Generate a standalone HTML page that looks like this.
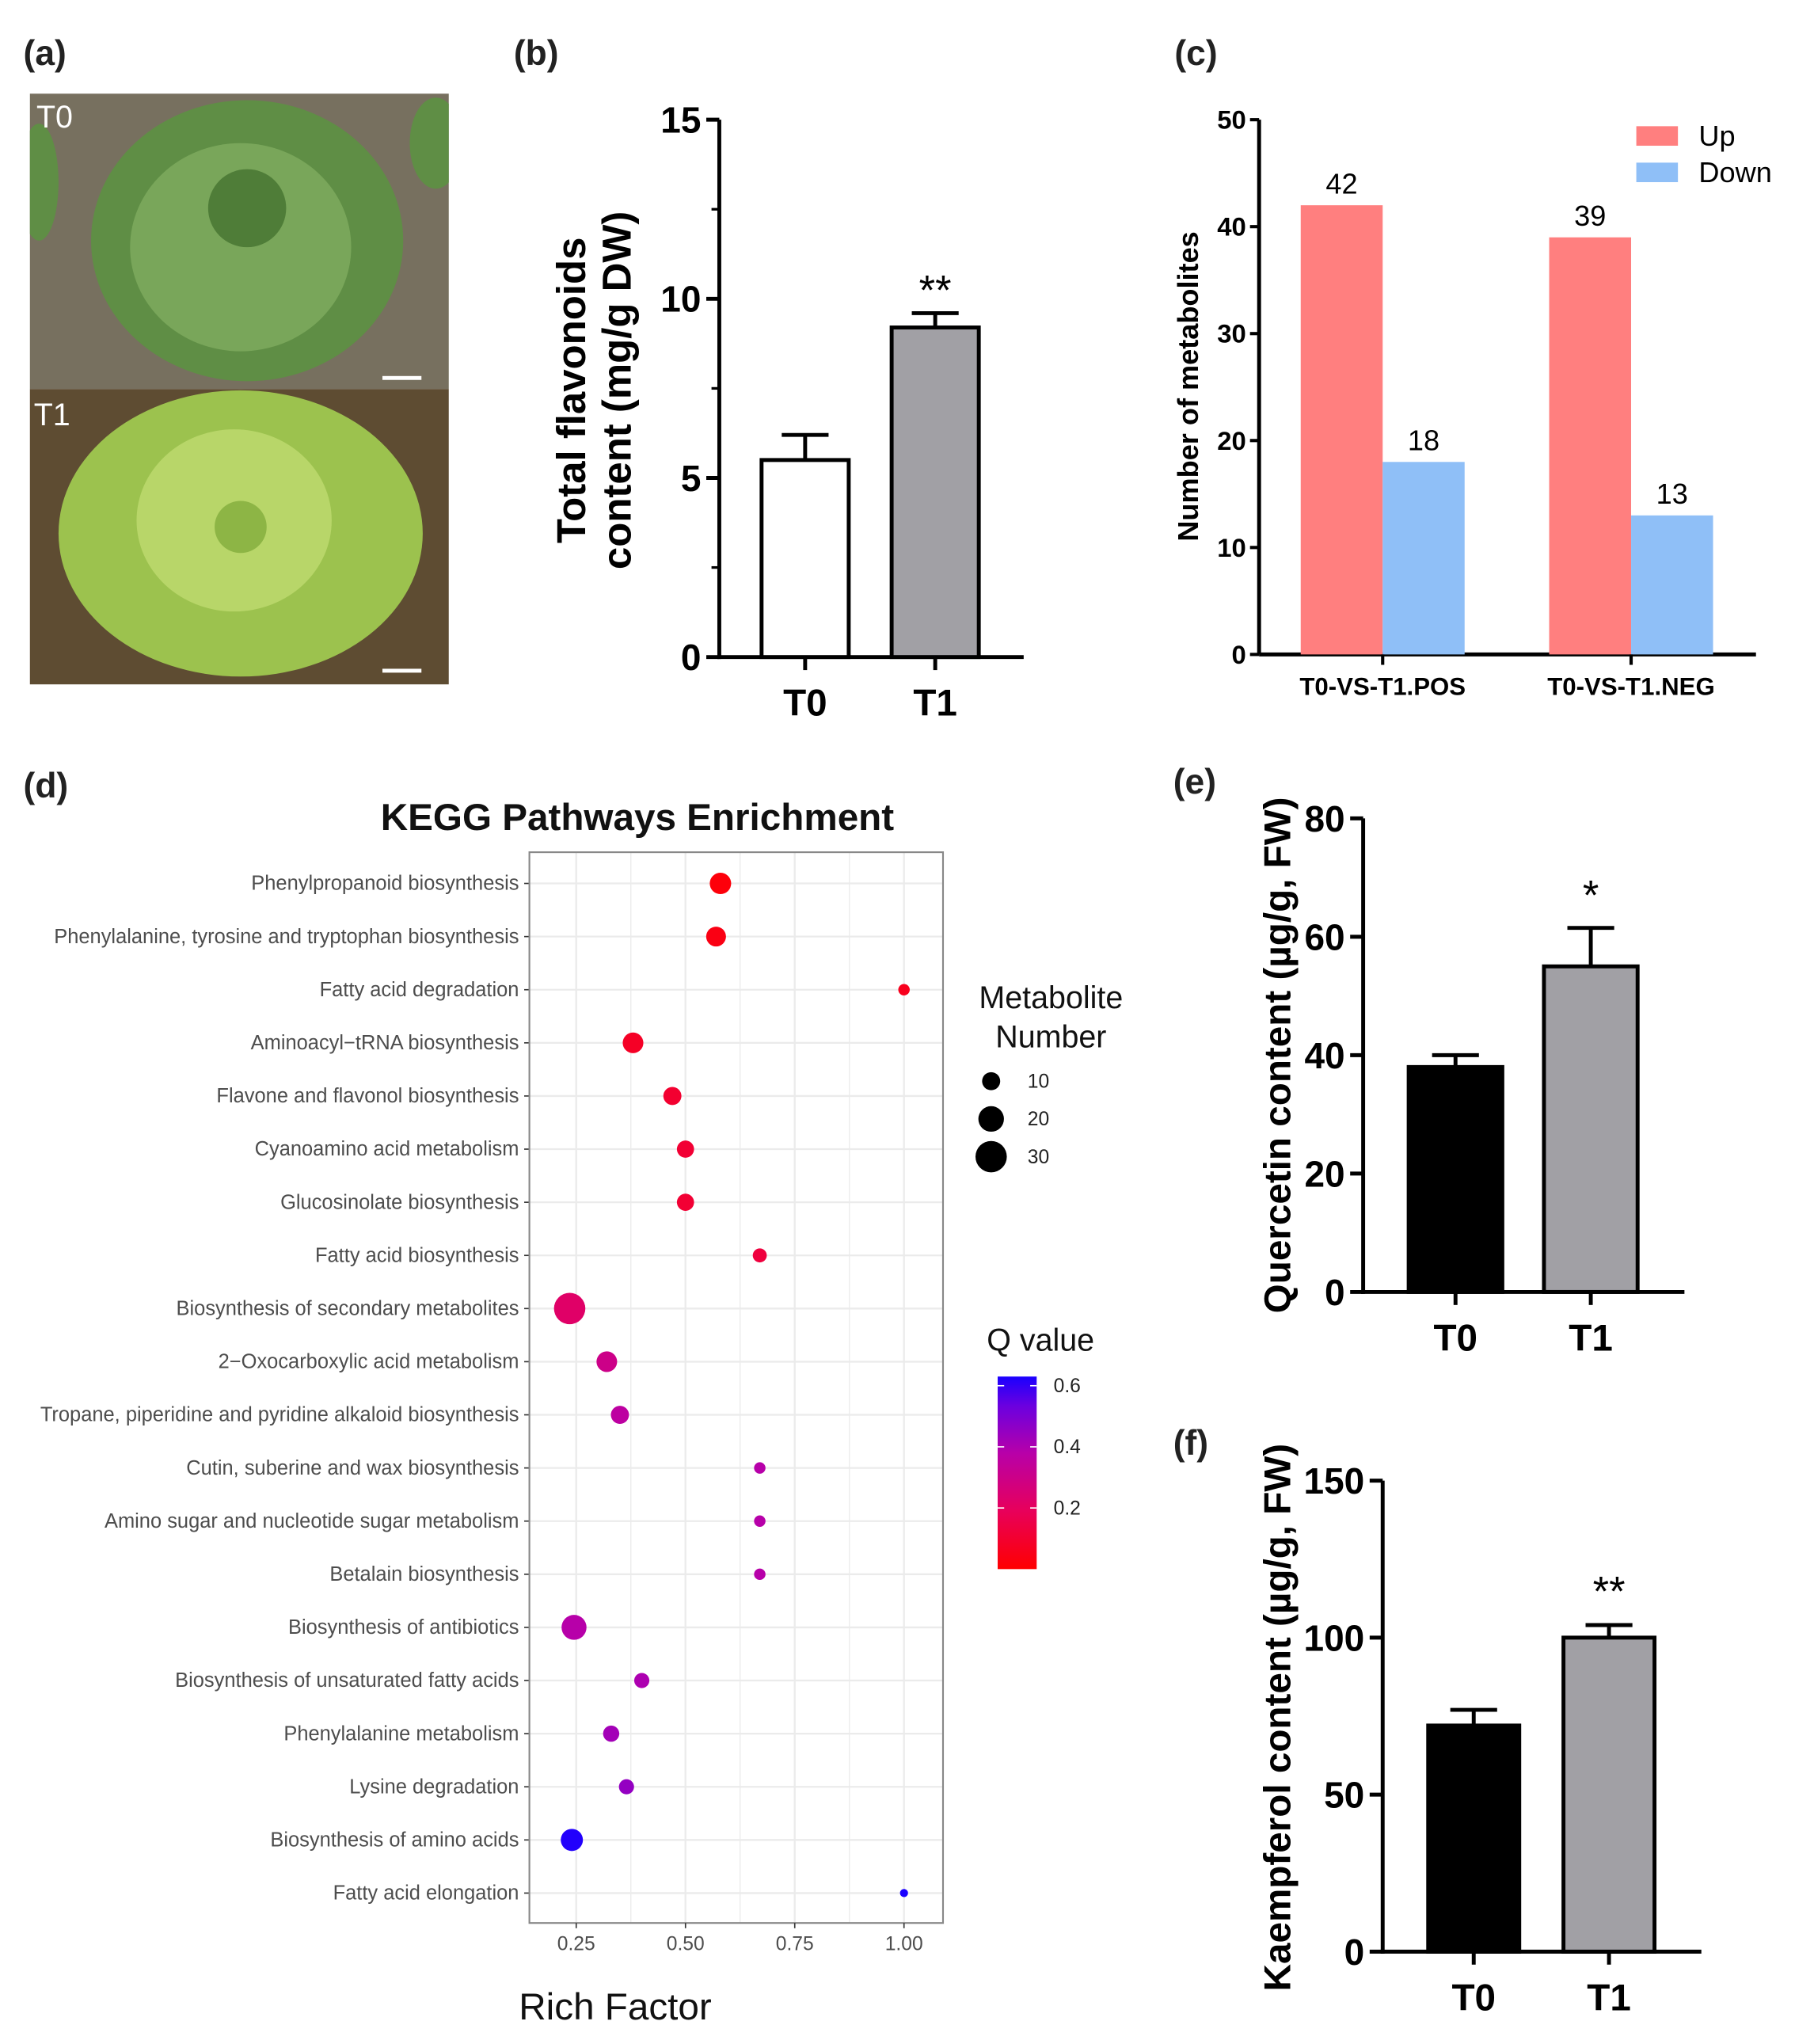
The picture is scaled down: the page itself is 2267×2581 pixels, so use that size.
<!DOCTYPE html>
<html><head><meta charset="utf-8"><style>
html,body{margin:0;padding:0;background:#fff;}
svg{display:block;font-family:"Liberation Sans",Arial,sans-serif;}
</style></head><body>
<svg id="fig" width="2267" height="2581" viewBox="0 0 1380 1571" preserveAspectRatio="none" xmlns="http://www.w3.org/2000/svg">
<defs>
<linearGradient id="qgrad" x1="0" y1="1" x2="0" y2="0">
<stop offset="0" stop-color="#ff0000"/><stop offset="0.3" stop-color="#e8005a"/><stop offset="0.6" stop-color="#b800a8"/><stop offset="0.85" stop-color="#6a00e0"/><stop offset="1" stop-color="#1a00ff"/>
</linearGradient>
<clipPath id="clip0"><rect x="23" y="72" width="322" height="227"/></clipPath>
<clipPath id="clip1"><rect x="23" y="299" width="322" height="227"/></clipPath>
</defs>
<g id="panelA">
<text x="18" y="50" font-size="27" font-weight="bold" fill="#222">(a)</text>
<rect x="23" y="72" width="322" height="227" fill="#77705f"/>
<rect x="23" y="299" width="322" height="227" fill="#5e4c32"/>
<g clip-path="url(#clip0)">
<g fill="#5f8e45">
<ellipse cx="190" cy="185" rx="120" ry="108"/><ellipse cx="30" cy="140" rx="15" ry="45"/><ellipse cx="335" cy="110" rx="20" ry="35"/>
</g>
<g fill="#79a65a"><ellipse cx="185" cy="190" rx="85" ry="80"/></g>
<g fill="#4f7d38"><circle cx="190" cy="160" r="30"/></g>
</g>
<g clip-path="url(#clip1)">
<g fill="#9cc24e"><ellipse cx="185" cy="410" rx="140" ry="110"/></g>
<g fill="#b8d669"><ellipse cx="180" cy="400" rx="75" ry="70"/></g>
<g fill="#8db545"><circle cx="185" cy="405" r="20"/></g>
</g>
<text x="28" y="98" font-size="24" fill="#fff">T0</text>
<text x="26" y="327" font-size="24" fill="#fff">T1</text>
<rect x="294" y="289" width="30" height="3" fill="#fff"/>
<rect x="294" y="514" width="30" height="3" fill="#fff"/>
</g>
<text x="395" y="50" font-size="27" font-weight="bold" fill="#222">(b)</text>
<text x="903" y="50" font-size="27" font-weight="bold" fill="#222">(c)</text>
<text x="18" y="613" font-size="27" font-weight="bold" fill="#222">(d)</text>
<text x="902" y="610" font-size="27" font-weight="bold" fill="#222">(e)</text>
<text x="902" y="1118" font-size="27" font-weight="bold" fill="#222">(f)</text>
<g id="gB"></g><g id="gC"></g><g id="gD"></g><g id="gE"></g><g id="gF"></g>
</svg>
<script>
// Panel b
const bCats = ["T0","T1"];
const bVals = [5.5, 9.2];
const bErr = [6.2, 9.6];
const bTicks = [0,5,10,15];
// Panel c
const cCats = ["T0-VS-T1.POS","T0-VS-T1.NEG"];
const cUp = [42, 39];
const cDown = [18, 13];
const cTicks = [0,10,20,30,40,50];
// Panel d
const dPaths = ["Phenylpropanoid biosynthesis","Phenylalanine, tyrosine and tryptophan biosynthesis","Fatty acid degradation","Aminoacyl\u2212tRNA biosynthesis","Flavone and flavonol biosynthesis","Cyanoamino acid metabolism","Glucosinolate biosynthesis","Fatty acid biosynthesis","Biosynthesis of secondary metabolites","2\u2212Oxocarboxylic acid metabolism","Tropane, piperidine and pyridine alkaloid biosynthesis","Cutin, suberine and wax biosynthesis","Amino sugar and nucleotide sugar metabolism","Betalain biosynthesis","Biosynthesis of antibiotics","Biosynthesis of unsaturated fatty acids","Phenylalanine metabolism","Lysine degradation","Biosynthesis of amino acids","Fatty acid elongation"];
const dRich = [0.58,0.57,1.00,0.38,0.47,0.50,0.50,0.67,0.235,0.32,0.35,0.67,0.67,0.67,0.245,0.40,0.33,0.365,0.24,1.00];
const dCount = [14,12,4,13,10,9,9,6,30,13,10,4,4,4,19,7,8,7,15,2];
const dQ = [0.02,0.04,0.06,0.08,0.10,0.11,0.11,0.13,0.22,0.30,0.36,0.38,0.38,0.38,0.38,0.40,0.42,0.45,0.62,0.65];
const dXTicks = [0.25,0.50,0.75,1.00];
const dSizeLegend = [10,20,30];
const dQTicks = [0.2,0.4,0.6];
// Panel e
const eCats = ["T0","T1"];
const eVals = [38, 55];
const eErr = [40, 61.5];
const eTicks = [0,20,40,60,80];
// Panel f
const fCats = ["T0","T1"];
const fVals = [72, 100];
const fErr = [77, 104];
const fTicks = [0,50,100,150];

const NS="http://www.w3.org/2000/svg";
function mk(parent, tag, attrs, text){const e=document.createElementNS(NS,tag);for(const k in attrs)e.setAttribute(k,attrs[k]);if(text!==undefined)e.textContent=text;parent.appendChild(e);return e;}

function barPanel(g, cfg){
  const y = v => cfg.y0 - (v - 0)/cfg.max*(cfg.y0-cfg.y1);
  let ax = mk(g,'line',{x1:cfg.ax,y1:cfg.y1,x2:cfg.ax,y2:cfg.y0+1.5,stroke:'#000','stroke-width':3});
  
  
  let xa = mk(g,'line',{x1:cfg.ax-1.5,y1:cfg.y0,x2:cfg.xEnd,y2:cfg.y0,stroke:'#000','stroke-width':3});
  
  
  cfg.ticks.forEach((t,i)=>{
    mk(g,'line',{x1:cfg.ax-10,y1:y(t),x2:cfg.ax,y2:y(t),stroke:'#000','stroke-width':3});
    if(cfg.minor && i<cfg.ticks.length-1){const m=(t+cfg.ticks[i+1])/2;mk(g,'line',{x1:cfg.ax-6,y1:y(m),x2:cfg.ax,y2:y(m),stroke:'#000','stroke-width':2});}
    const tl=mk(g,'text',{x:cfg.ax-14,y:y(t)+10,'font-size':28,'font-weight':'bold','text-anchor':'end'},t);
    
    
  });
  cfg.cats.forEach((c,i)=>{
    const cx=cfg.cx[i], w=cfg.bw;
    const b=mk(g,'rect',{x:cx-w/2,y:y(cfg.vals[i]),width:w,height:cfg.y0-y(cfg.vals[i]),fill:cfg.fills[i],stroke:'#000','stroke-width':3});
    
    
    const e=mk(g,'path',{d:`M${cx} ${y(cfg.vals[i])} V${y(cfg.err[i])} M${cx-18} ${y(cfg.err[i])} H${cx+18}`,stroke:'#000','stroke-width':3,fill:'none'});
    
    
    mk(g,'line',{x1:cx,y1:cfg.y0,x2:cx,y2:cfg.y0+10,stroke:'#000','stroke-width':3});
    const l=mk(g,'text',{x:cx,y:cfg.y0+45,'font-size':29,'font-weight':'bold','text-anchor':'middle'},c);
    
    
  });
  const s=mk(g,'text',{x:cfg.cx[1],y:cfg.starY,'font-size':32,'text-anchor':'middle'},cfg.star);
  
  
  cfg.titles.forEach((tt,k)=>{
    const t=mk(g,'text',{x:0,y:0,'font-size':cfg.tfs,'font-weight':'bold','text-anchor':'middle',transform:`translate(${tt[1]},${cfg.ty}) rotate(-90)`},tt[0]);
    
    
  });
}
barPanel(document.getElementById('gB'),{ax:553,y0:505,y1:92,max:15,xEnd:787,ticks:bTicks,minor:true,cats:bCats,vals:bVals,err:bErr,cx:[619,719],bw:67,fills:['#fff','#a1a0a5'],star:'**',starY:234,titles:[['Total flavonoids',450],['content (mg/g  DW)',485]],ty:300,tfs:31});
barPanel(document.getElementById('gE'),{ax:1048,y0:993,y1:629,max:80,xEnd:1295,ticks:eTicks,cats:eCats,vals:eVals,err:eErr,cx:[1119,1223],bw:72,fills:['#000','#a1a0a5'],star:'*',starY:699,titles:[['Quercetin content (\u00b5g/g, FW)',992]],ty:811,tfs:29});
barPanel(document.getElementById('gF'),{ax:1063,y0:1500,y1:1138,max:150,xEnd:1308,ticks:fTicks,cats:fCats,vals:fVals,err:fErr,cx:[1133,1237],bw:70,fills:['#000','#a1a0a5'],star:'**',starY:1234,titles:[['Kaempferol content (\u00b5g/g, FW)',992]],ty:1320,tfs:29});

// Panel c
(function(){
  const g=document.getElementById('gC');
  const y0=503,y1=92,max=50,ax=968;
  const y=v=>y0-v/max*(y0-y1);
  const ya=mk(g,'line',{x1:ax,y1:y1,x2:ax,y2:y0,stroke:'#000','stroke-width':3});
  
  
  const xa=mk(g,'line',{x1:ax,y1:y0,x2:1350,y2:y0,stroke:'#000','stroke-width':3});
  
  
  cTicks.forEach(t=>{
    mk(g,'line',{x1:ax-7,y1:y(t),x2:ax,y2:y(t),stroke:'#000','stroke-width':2.5});
    const tl=mk(g,'text',{x:ax-10,y:y(t)+7,'font-size':20,'font-weight':'bold','text-anchor':'end'},t);
    
    
  });
  const centers=[1063,1254], w=63;
  cCats.forEach((c,i)=>{
    const cx=centers[i];
    const u=mk(g,'rect',{x:cx-w,y:y(cUp[i]),width:w,height:y0-y(cUp[i]),fill:'#ff7f7f'});
    
    
    const d=mk(g,'rect',{x:cx,y:y(cDown[i]),width:w,height:y0-y(cDown[i]),fill:'#8fbff7'});
    
    
    const lu=mk(g,'text',{x:cx-w/2,y:y(cUp[i])-9,'font-size':22,'text-anchor':'middle'},cUp[i]);
    
    
    const ld=mk(g,'text',{x:cx+w/2,y:y(cDown[i])-9,'font-size':22,'text-anchor':'middle'},cDown[i]);
    
    
    mk(g,'line',{x1:cx,y1:y0,x2:cx,y2:y0+8,stroke:'#000','stroke-width':2.5});
    const xl=mk(g,'text',{x:cx,y:534,'font-size':19,'font-weight':'bold','text-anchor':'middle'},c);
    
    
  });
  const t=mk(g,'text',{x:0,y:0,'font-size':22,'font-weight':'bold','text-anchor':'middle',transform:'translate(921,297) rotate(-90)'},'Number of metabolites');
  
  
  [['Up','#ff7f7f',97],['Down','#8fbff7',125]].forEach(L=>{
    const r=mk(g,'rect',{x:1258,y:L[2],width:32,height:15,fill:L[1]});
    
    
    const tx=mk(g,'text',{x:1306,y:L[2]+15,'font-size':22},L[0]);
    
    
  });
})();

// Panel d
function qColor(q){
  const stops=[[0,[255,0,0]],[0.3,[232,0,90]],[0.6,[184,0,168]],[0.85,[106,0,224]],[1,[26,0,255]]];
  let f=Math.max(0,Math.min(1,q/0.63));
  for(let i=0;i<stops.length-1;i++){if(f<=stops[i+1][0]){const a=stops[i],b=stops[i+1];const t=(f-a[0])/(b[0]-a[0]);const c=a[1].map((v,k)=>Math.round(v+(b[1][k]-v)*t));return `rgb(${c})`;}}
  return 'rgb(26,0,255)';
}
(function(){
  const g=document.getElementById('gD');
  const L=407,R=725,T=655,B=1478;
  const x=v=>443+(v-0.25)*336;
  const y=i=>679+i*(1455-679)/(dPaths.length-1);
  const rad=n=>2.2*Math.sqrt(n);
  const tt=mk(g,'text',{x:490,y:638,'font-size':29,'font-weight':'bold','text-anchor':'middle',fill:'#111'},'KEGG Pathways Enrichment');
  
  
  for(let v=0.125;v<=1.1;v+=0.125){ if(x(v)>L&&x(v)<R) mk(g,'line',{x1:x(v),y1:T,x2:x(v),y2:B,stroke:'#ebebeb','stroke-width':dXTicks.some(t=>Math.abs(t-v)<1e-6)?1.4:0.8}); }
  dPaths.forEach((p,i)=>{
    mk(g,'line',{x1:L,y1:y(i),x2:R,y2:y(i),stroke:'#ebebeb','stroke-width':1.4});
    mk(g,'line',{x1:L-4,y1:y(i),x2:L,y2:y(i),stroke:'#333','stroke-width':1});
    const lb=mk(g,'text',{x:L-8,y:y(i)+5,'font-size':15.5,'text-anchor':'end',fill:'#4d4d4d',textLength:null},p);
    lb.removeAttribute('textLength');
    
    
  });
  const fr=mk(g,'rect',{x:L,y:T,width:R-L,height:B-T,fill:'none',stroke:'#888','stroke-width':1.3});
  
  
  dPaths.forEach((p,i)=>{
    const c=mk(g,'circle',{cx:x(dRich[i]),cy:y(i),r:rad(dCount[i]),fill:qColor(dQ[i])});
    
    
  });
  dXTicks.forEach(t=>{
    mk(g,'line',{x1:x(t),y1:B,x2:x(t),y2:B+4,stroke:'#333','stroke-width':1});
    const tl=mk(g,'text',{x:x(t),y:B+21,'font-size':15,'text-anchor':'middle',fill:'#4d4d4d'},t.toFixed(2));
    
    
  });
  const xt=mk(g,'text',{x:473,y:1552,'font-size':29,'text-anchor':'middle',fill:'#111'},'Rich Factor');
  
  
  const lt1=mk(g,'text',{x:808,y:775,'font-size':24,'text-anchor':'middle',fill:'#111'},'Metabolite');
  
  
  const lt2=mk(g,'text',{x:808,y:805,'font-size':24,'text-anchor':'middle',fill:'#111'},'Number');
  
  
  dSizeLegend.forEach((n,k)=>{
    const yy=831+k*29;
    const c=mk(g,'circle',{cx:762,cy:yy,r:rad(n),fill:'#000'});
    
    
    const t=mk(g,'text',{x:790,y:yy+5,'font-size':15,fill:'#222'},n);
    
    
  });
  const qt=mk(g,'text',{x:800,y:1038,'font-size':24,'text-anchor':'middle',fill:'#111'},'Q value');
  
  
  const cb=mk(g,'rect',{x:767,y:1058,width:30,height:148,fill:'url(#qgrad)'});
  
  
  const qy=q=>1206-q/0.63*148;
  dQTicks.forEach(q=>{
    mk(g,'line',{x1:767,y1:qy(q),x2:772,y2:qy(q),stroke:'#fff','stroke-width':1});
    mk(g,'line',{x1:792,y1:qy(q),x2:797,y2:qy(q),stroke:'#fff','stroke-width':1});
    const t=mk(g,'text',{x:810,y:qy(q)+5,'font-size':15,fill:'#222'},q.toFixed(1));
    
    
  });
})();
</script>
</body></html>
